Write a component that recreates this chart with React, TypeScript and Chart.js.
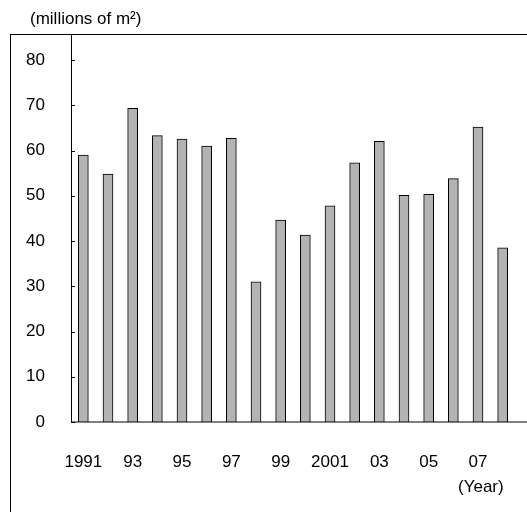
import React, { useEffect, useRef } from "react";
import { Chart, registerables } from "chart.js";

Chart.register(...registerables);

const years = ["1991", "92", "93", "94", "95", "96", "97", "98", "99", "2000", "2001", "02", "03", "04", "05", "06", "07", "08"];
const yearLabels = ["1991", "", "93", "", "95", "", "97", "", "99", "", "2001", "", "03", "", "05", "", "07", ""];
const supply = [59, 54.8, 69.3, 63.3, 62.5, 61, 62.7, 31, 44.6, 41.3, 47.8, 57.3, 62, 50.1, 50.3, 53.8, 65.2, 38.5];
const yTicks = [0, 10, 20, 30, 40, 50, 60, 70, 80];

const FONT = "'Liberation Sans', Arial, sans-serif";

// frame, axis lines, tick marks and unit labels
const decorPlugin = {
  id: "decor",
  afterDraw: (chart: Chart) => {
    const { ctx, chartArea } = chart;
    const y = chart.scales.y;
    ctx.save();
    ctx.strokeStyle = "#000";
    ctx.lineWidth = 1;
    ctx.strokeRect(10.5, 34.5, 600, 600);
    ctx.beginPath();
    ctx.moveTo(chartArea.left + 0.5, 34);
    ctx.lineTo(chartArea.left + 0.5, chartArea.bottom);
    ctx.lineTo(527, chartArea.bottom);
    yTicks.forEach((t) => {
      const py = Math.round(y.getPixelForValue(t)) + 0.5;
      ctx.moveTo(chartArea.left, py);
      ctx.lineTo(chartArea.left + 4, py);
    });
    ctx.stroke();
    ctx.fillStyle = "#000";
    ctx.font = `17px ${FONT}`;
    ctx.textBaseline = "middle";
    ctx.fillText("(millions of m\u00B2)", 30, 19);
    ctx.fillText("(Year)", 458, 487);
    ctx.restore();
  },
};

export default function App() {
  const canvasRef = useRef<HTMLCanvasElement | null>(null);

  useEffect(() => {
    document.body.style.margin = "0";
    const ctx = canvasRef.current?.getContext("2d");
    if (!ctx) return;
    const chart = new Chart(ctx, {
      type: "bar",
      data: {
        labels: years,
        datasets: [
          {
            data: supply,
            backgroundColor: "#b3b3b3",
            borderColor: "#000",
            borderWidth: 1,
            barThickness: 10,
          },
        ],
      },
      options: {
        animation: false,
        responsive: false,
        layout: { padding: { top: 60, left: 0, right: 12, bottom: 0 } },
        plugins: { legend: { display: false }, tooltip: { enabled: false } },
        scales: {
          x: {
            grid: { display: false },
            border: { display: false },
            afterFit: (s: any) => { s.height = 90; },
            ticks: {
              autoSkip: false,
              maxRotation: 0,
              padding: 22,
              color: "#000",
              font: { family: FONT, size: 17 },
              callback: (_v: any, i: number) => yearLabels[i],
            },
          },
          y: {
            min: 0,
            max: 80,
            grid: { display: false },
            border: { display: false },
            afterFit: (s: any) => { s.width = 71; },
            ticks: {
              stepSize: 10,
              padding: 18,
              color: "#000",
              font: { family: FONT, size: 17 },
            },
          },
        },
      },
      plugins: [decorPlugin],
    });
    return () => chart.destroy();
  }, []);

  return (
    <div style={{ width: 527, height: 512, overflow: "hidden" }}>
      <canvas ref={canvasRef} width={527} height={512} />
    </div>
  );
}
